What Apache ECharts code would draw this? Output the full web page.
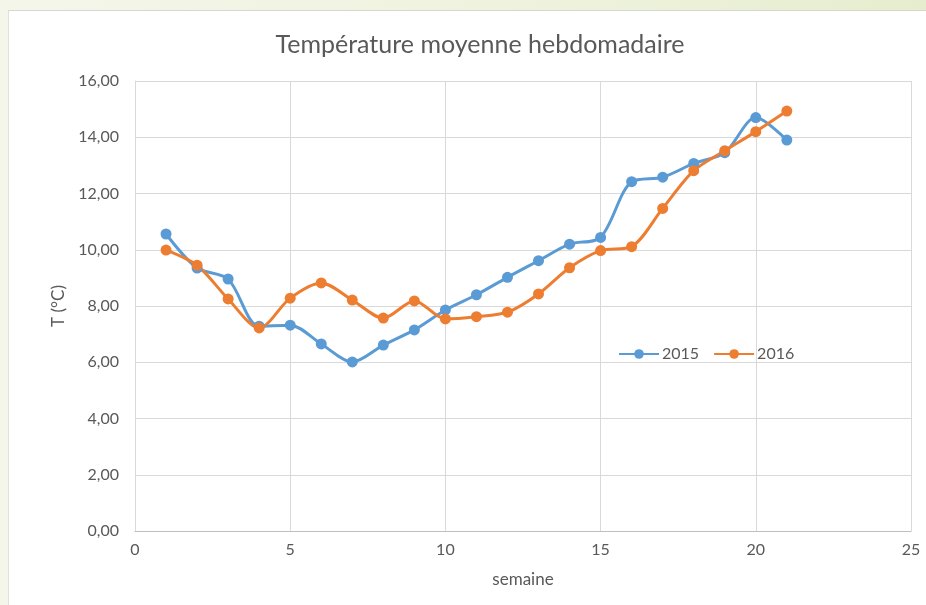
<!DOCTYPE html>
<html>
<head>
<meta charset="utf-8">
<script src="https://cdn.jsdelivr.net/npm/echarts@6/dist/echarts.min.js"></script>
<style>
html,body{margin:0;padding:0;width:926px;height:605px;overflow:hidden;}
body{background:linear-gradient(90deg,#f4f6ea 0%,#eef2dc 60%,#e6edce 100%);position:relative;}
#panel{position:absolute;left:8px;top:10px;right:0;bottom:0;background:#fff;border-top:1px solid #d6d8d0;border-left:1px solid #e0e2da;}
#chart{position:absolute;left:0;top:0;width:926px;height:605px;}
</style>
</head>
<body>
<div id="panel"></div>
<div id="chart"></div>
<script>
var weeks = [1,2,3,4,5,6,7,8,9,10,11,12,13,14,15,16,17,18,19,20,21];
var t2015 = [10.56,9.35,8.96,7.28,7.32,6.65,6.01,6.61,7.15,7.86,8.40,9.02,9.61,10.20,10.44,12.42,12.58,13.07,13.45,14.70,13.90];
var t2016 = [9.99,9.45,8.25,7.22,8.28,8.82,8.21,7.57,8.18,7.54,7.62,7.78,8.43,9.36,9.97,10.11,11.47,12.81,13.52,14.20,14.93];
var seriesNames = ['2015','2016'];

function pairs(xs, ys){ return xs.map(function(x,i){return [x, ys[i]];}); }

var FONT = 'Lato';
var chart = echarts.init(document.getElementById('chart'), null, {renderer:'canvas'});
chart.setOption({
  backgroundColor: 'transparent',
  animation: false,
  title: {
    text: 'Température moyenne hebdomadaire',
    left: 475, top: 27, textAlign: 'center',
    textStyle: {fontFamily: FONT, fontSize: 25, fontWeight: 'normal', color: '#595959'}
  },
  legend: {
    left: 613, top: 341,
    itemWidth: 40, itemHeight: 12, itemGap: 14,
    textStyle: {fontFamily: FONT, fontSize: 16, color: '#595959', padding: [0,0,0,-2]},
    data: seriesNames
  },
  grid: {left: 135, right: 15, top: 81, bottom: 74},
  xAxis: {
    type: 'value', min: 0, max: 25, interval: 5,
    name: 'semaine', nameLocation: 'middle', nameGap: 40,
    nameTextStyle: {fontFamily: FONT, fontSize: 17, color: '#595959'},
    axisLine: {show: true, lineStyle: {color: '#bfbfbf'}},
    axisTick: {show: false},
    axisLabel: {fontFamily: FONT, fontSize: 16, color: '#595959', margin: 11},
    splitLine: {show: true, lineStyle: {color: '#d9d9d9'}}
  },
  yAxis: {
    type: 'value', min: 0, max: 16, interval: 2,
    name: 'T (°C)', nameLocation: 'middle', nameGap: 66, nameRotate: 90,
    nameTextStyle: {fontFamily: FONT, fontSize: 17, color: '#595959'},
    axisLine: {show: true, lineStyle: {color: '#d9d9d9'}},
    axisTick: {show: false},
    axisLabel: {fontFamily: FONT, fontSize: 16, color: '#595959', margin: 16,
      formatter: function(v){ return v.toFixed(2).replace('.', ','); }},
    splitLine: {show: true, lineStyle: {color: '#d9d9d9'}}
  },
  series: [
    {name: seriesNames[0], type: 'line', data: pairs(weeks, t2015), smooth: 0.3,
     symbol: 'circle', symbolSize: 11, color: '#5B9BD5',
     lineStyle: {width: 3, color: '#5B9BD5'}, itemStyle: {color: '#5B9BD5'}},
    {name: seriesNames[1], type: 'line', data: pairs(weeks, t2016), smooth: 0.3,
     symbol: 'circle', symbolSize: 11, color: '#ED7D31',
     lineStyle: {width: 3, color: '#ED7D31'}, itemStyle: {color: '#ED7D31'}}
  ]
});
</script>
</body>
</html>
